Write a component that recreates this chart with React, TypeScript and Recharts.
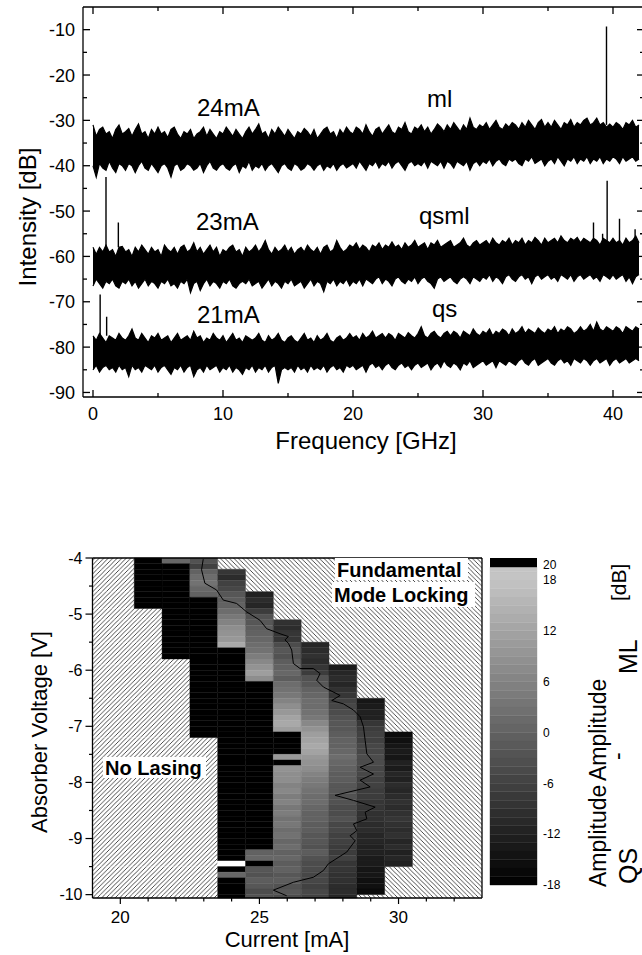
import React from "react";
import { ComposedChart, Area, Line, XAxis, YAxis, ReferenceArea } from "recharts";

const FONT = "'Liberation Sans', Arial, Helvetica, sans-serif";
const AXIS = { stroke: "#000", strokeWidth: 1.3 };

// ---------- spectra: upper / lower edge of the noise band [dB], one value every 0.25 GHz from 0 to 42 GHz
const FREQ_STEP = 0.25;

const hi24 = [
  -31, -33.5, -32, -31.5, -33, -32.5, -34, -32, -31, -33,
  -32.5, -31.8, -33.5, -32, -30.8, -33, -32.5, -34, -32, -33,
  -31.5, -33, -32.5, -33.8, -32, -31.5, -33, -34, -32.5, -33,
  -32, -34, -33, -32.5, -31.5, -33.5, -32, -33, -34, -32.5,
  -33, -31.5, -32.5, -33.5, -32, -33, -34, -32.5, -31.5, -33,
  -32, -30.8, -33, -32.5, -34, -32, -33, -31.5, -32.5, -33.5,
  -32, -33, -34, -32.5, -33, -31.8, -32.5, -33.5, -32, -34,
  -33, -32, -31.5, -33, -32.5, -34, -32, -33, -31.5, -32.5,
  -33, -31.5, -32, -33, -31, -32.5, -33.5, -32, -31.5, -33,
  -32, -31, -32.5, -33, -31.5, -32, -30.5, -32.5, -33, -31.5,
  -32, -31, -32.5, -31.5, -33, -32, -30.8, -31.5, -32.5, -31,
  -32, -30.5, -31.5, -32.5, -31, -32, -29.5, -31.5, -32, -31,
  -31.5, -30.5, -32, -31, -30, -31.5, -32, -30.8, -31.5, -30.5,
  -31, -32, -30.5, -31.5, -30, -31, -32, -30.5, -29.8, -31.5,
  -30.5, -31.5, -30, -31, -32, -30.5, -31, -29.8, -31.5, -30.5,
  -31, -30, -29.5, -31, -30.5, -29.5, -31, -30.5, -31.5, -30.8,
  -31.5, -30.5, -31, -32, -30.5, -31, -30, -31.5, -31,
];
const lo24 = [
  -40, -42.5, -39.5, -40.5, -41, -39, -40.5, -41.5, -39.5, -40,
  -41, -39.5, -40, -41.5, -40, -39, -40.5, -41, -39.5, -40.5,
  -41.5, -40, -39.5, -40.5, -42.5, -40, -39.5, -41, -40.5, -39.5,
  -40, -41, -40.5, -39.5, -41.5, -40, -39, -40.5, -41, -40,
  -39.5, -40.5, -41, -40, -39.5, -41.5, -40, -40.5, -39, -41,
  -40, -40.5, -39.5, -41, -40, -39.5, -40.5, -41.5, -40, -39.5,
  -40.5, -41, -39.5, -40, -41, -40.5, -39.5, -40, -41, -40,
  -39.5, -41, -40, -40.5, -39.5, -41, -40, -39.5, -40.5, -40,
  -39.5, -40.5, -39, -40, -41, -39.5, -40, -39, -40.5, -39.5,
  -40, -39, -40.5, -39.5, -39, -40, -41, -39.5, -39, -40,
  -39.5, -40, -39, -40.5, -39, -39.5, -40, -39, -40.5, -39,
  -39.5, -40.5, -39, -39.5, -40, -39, -41, -39.5, -39, -40,
  -39, -39.5, -38.5, -40, -39, -38.5, -39.5, -40, -38.5, -39,
  -38.5, -39.5, -40, -38.5, -39, -38, -39.5, -39, -38.5, -40,
  -39, -38.5, -39.5, -38, -39, -40, -38.5, -39, -38, -39.5,
  -38.5, -39, -38, -39.5, -38.5, -39, -38, -39.5, -38.5, -39,
  -38, -38.5, -39.5, -38, -39, -38.5, -38, -39, -38.5,
];
const hi23 = [
  -58, -59.5, -58, -59, -57.5, -59, -58.5, -60, -58, -57.8,
  -59, -58.5, -60, -58, -59, -57.5, -58.5, -59.5, -58, -59,
  -58.5, -60, -57.5, -58.5, -59, -58, -59.5, -58, -57.5, -59,
  -58.5, -57, -59, -58, -59.5, -58.5, -57.5, -59, -58, -60,
  -58.5, -59, -58, -57.5, -59, -58.5, -60, -58, -59, -58.5,
  -57.5, -59, -58, -56.5, -58.5, -59.5, -58, -59, -58.5, -57.5,
  -59, -58, -59.5, -58.5, -58, -59, -57.5, -58.5, -59, -58,
  -59.5, -58, -57.5, -59, -58.5, -56.5, -58, -59, -58.5, -57.5,
  -58, -57, -58.5, -57.5, -58, -59, -57.5, -58, -57, -58.5,
  -57.5, -58, -56.8, -58, -57.5, -58.5, -57, -58, -57.5, -56.5,
  -58, -57.5, -57, -58.5, -57, -57.5, -56.5, -58, -57.5, -57,
  -56.5, -58, -57.5, -57, -56, -57.5, -58, -57, -56.5, -57.5,
  -57, -56.5, -57.5, -56, -57, -57.5, -56.5, -57, -56, -57.5,
  -56.5, -57, -56, -57.5, -56.5, -57, -55.8, -56.5, -57.5, -56,
  -57, -56.5, -56, -57, -55.5, -56.5, -57, -56, -56.5, -55.8,
  -57, -56, -56.5, -57, -56, -56.5, -57.5, -56, -56.5, -57,
  -56, -57, -56.5, -57.5, -56, -57, -56.5, -55.5, -57,
];
const lo23 = [
  -66.5, -65, -66, -67, -65.5, -66, -65, -66.5, -67, -65.5,
  -66, -65, -66.5, -65.5, -67, -66, -65, -66.5, -65.5, -66,
  -67, -65.5, -66, -65, -66.5, -66, -67, -65.5, -66, -65,
  -68, -66, -65.5, -67.5, -66, -65, -66.5, -65.5, -66, -67,
  -65.5, -66, -65, -66.5, -67, -66, -65.5, -66, -65, -66.5,
  -66, -65.5, -67, -66, -65, -66.5, -65.5, -66, -67, -65.5,
  -66, -65, -66.5, -66, -65.5, -67, -66, -65, -66.5, -65.5,
  -66, -67.8, -65.5, -66, -65, -66.5, -65.5, -66, -65, -66.5,
  -65.5, -66, -65, -66.5, -65, -65.5, -66, -65, -64.5, -66,
  -65, -65.5, -66.5, -65, -64.5, -65.5, -66, -65, -65.5, -64.5,
  -66, -65, -64.5, -65.5, -66, -67, -65, -64.5, -65.5, -65,
  -64.5, -65.5, -66, -65, -64.5, -65, -66, -64.5, -65, -65.5,
  -64.5, -65, -64, -65.5, -64.5, -65, -66, -64.5, -64, -65,
  -65.5, -64.5, -64, -65, -64.5, -66, -64.5, -64, -65, -64.5,
  -64, -65, -64.5, -65.5, -64, -64.5, -65, -64, -65.5, -64.5,
  -64, -65, -64.5, -64, -65, -64.5, -65.5, -64, -64.5, -65,
  -64, -65, -64.5, -64, -65.5, -64.5, -66, -64.5, -64,
];
const hi21 = [
  -77.5, -78.5, -77, -78, -79, -77.5, -78, -78.5, -77, -78,
  -78.5, -77.5, -76, -78, -78.5, -77, -78, -79, -77.5, -78,
  -77, -78.5, -78, -77.5, -79, -78, -77, -78.5, -78, -77.5,
  -78.5, -76.5, -78, -77.5, -79, -78, -78.5, -77, -78, -78.5,
  -77.5, -79, -78, -77, -78.5, -78, -79, -77.5, -78, -78.5,
  -78, -77, -78.5, -79, -77.5, -78.5, -78, -77, -78.5, -79,
  -78, -77.5, -78.5, -79, -78, -77, -78.5, -78, -79, -77.5,
  -78.5, -78, -77, -78.5, -79, -78, -77.5, -78.5, -78, -77,
  -78, -77.5, -78.5, -77, -78, -77.5, -76.5, -78, -77.5, -77,
  -78, -77, -77.5, -78.5, -77, -77.5, -78, -76.8, -77.5, -78,
  -77, -75.5, -77.5, -78, -77, -76.5, -77.5, -78, -77, -76.5,
  -77.5, -76.5, -77, -78, -76.5, -77, -77.5, -76, -77, -77.5,
  -76.5, -77, -76, -77.5, -76.5, -77, -76, -76.5, -77.5, -76,
  -77, -76.5, -75.5, -77, -76, -76.5, -77, -75.8, -76.5, -77,
  -76, -76.5, -75.5, -77, -76, -76.5, -75.5, -76, -77, -76.5,
  -75.5, -76.5, -76, -75, -76.5, -74.5, -76, -76.5, -75.5, -76,
  -76.5, -75.5, -76, -77, -75.5, -76, -76.5, -75.5, -76,
];
const lo21 = [
  -85, -84, -85.5, -84.5, -84, -85, -84.5, -85.5, -84, -85,
  -84.5, -86.5, -84, -85, -84.5, -85.5, -84, -84.5, -85, -84,
  -85.5, -84.5, -84, -85, -86, -84.5, -85, -84, -85.5, -84.5,
  -84, -86.5, -85, -84.5, -85.5, -84, -85, -84.5, -84, -85.5,
  -84.5, -85, -84, -85.5, -84.5, -85, -86, -84.5, -85, -84,
  -85.5, -84.5, -85, -84, -85.5, -84.5, -84, -88, -85, -84.5,
  -85, -84.5, -85.5, -84, -85, -84.5, -85.5, -84, -85, -84.5,
  -85, -84, -85.5, -84.5, -84, -85, -84.5, -85.5, -84, -84.5,
  -84, -85, -84.5, -84, -85.5, -84, -83.5, -84.5, -84, -85,
  -84, -83.5, -84.5, -85, -84, -83.5, -84.5, -84, -85, -84,
  -83.5, -84.5, -84, -83.5, -85, -84, -83.5, -84.5, -83, -84,
  -84.5, -83.5, -84, -85, -83.5, -84, -83, -84.5, -84, -83.5,
  -83, -84, -83.5, -83, -84.5, -83, -83.5, -84, -83, -83.5,
  -84, -83, -82.5, -83.5, -84, -83, -82.5, -84, -83.5, -83,
  -82.5, -83.5, -84, -83, -82.5, -83.5, -83, -84, -82.5, -83,
  -83.5, -82.5, -83, -84, -83, -82.5, -83.5, -83, -82.5, -84,
  -83, -82.5, -83.5, -83, -82.5, -83.5, -83, -82.5, -83,
];

// narrow peaks: [frequency GHz, foot dB, top dB]
const spikes24 = [[39.5, -31, -9.3]];
const spikes23 = [
  [1.0, -58, -42.5], [1.95, -58, -52.5], [38.5, -57, -52.5], [39.2, -57, -55],
  [39.55, -57, -43.3], [40.5, -57, -51.7], [41.7, -57, -54],
];
const spikes21 = [[0.55, -77.5, -68.4], [1.05, -77.5, -73.3]];

const freqTicks = [0, 5, 10, 15, 20, 25, 30, 35, 40];
const dbTicks = [-90, -85, -80, -75, -70, -65, -60, -55, -50, -45, -40, -35, -30, -25, -20, -15, -10];

// ---------- map: amplitude difference [dB], columns at 1 mA, rows of 0.1 V from the column top downwards
// 99 = saturated (drawn black), null = no value (white)
const S = 99;
const currents = [21, 22, 23, 24, 25, 26, 27, 28, 29, 30];
const colTop = [-4.0, -4.0, -4.0, -4.2, -4.6, -5.1, -5.5, -5.9, -6.5, -7.1];
const colValues = [
  [S, S, S, S, S, S, S, S, S],
  [1, S, S, S, S, S, S, S, S, S, S, S, S, S, S, S, S, S],
  [-3, -6, 0, 2, 3, 1, 0, S, S, S, S, S, S, S, S, S, S, S, S, S, S, S, S, S, S, S, S, S, S, S, S, S],
  [-8, -10, -6, -5, -2, -1, 0, 2, 4, 6, 8, 9, 10, 13,
    S, S, S, S, S, S, S, S, S, S, S, S, S, S, S, S, S, S, S, S, S, S, S, S, S, S, S, S, S, S, S, S, S, S, S, S, S, S,
    null, S, 1, S, S, S, S],
  [-12, -10, -11, -7, -3, -2, -1, 0, 1, 2, 3, 5, 7, 9, 11, 8,
    S, S, S, S, S, S, S, S, S, S, S, S, S, S, S, S, S, S, S, S, S, S, S, S, S, S, S, S, S, S,
    0, 1, S, -2, -3, -1, -2, -4, -3],
  [-9, -10, -8, -8, -4, -2, -3, -1, 0, 1, -1, 2, 3, 4, 6, 8, 10, 12, 13, 11,
    S, S, S, S, 10, S,
    9, 8, 8, 6, 7, 5, 6, 4, 5, 3, 4, 2, 3, 1, 2, 0, 1, -1, 0, -2, -1, -3, -2, -4],
  [-11, -10, -9, -10, -8, -7, -3, -2, 0, 1, 2, 2, 3, 4, 7, 9, 11, 12, 13, 12, 10, 9,
    8, 6, 5, 4, 3, 2, 2, 1, 0, 0, -1, -1, -2, -2, -3, -1, -3, -4, -4, -5, -5, -6, -5, -6],
  [-13, -11, -10, -11, -9, -8, -6, -5, -4, -3, -2, -2, -1, 0, 0, 1, 2, 1, 0, -1, -1, -2, -2, -3, -3, -4,
    -4, -3, -5, -5, -6, -6, -7, -7, -6, -8, -8, -9, -9, -10, -10, -11],
  [-14, -13, -12, -12, -8, -7, -6, -6, -5, -5, -4, -4, -5, -5, -6, -6, -7, -7, -8, -8, -9, -9, -10, -10,
    -11, -11, -12, -12, -13, -13, -14, -14, -15, -15, -16],
  [-16, -15, -14, -13, -14, -12, -13, -11, -12, -10, -11, -10, -9, -10, -9, -8, -9, -10, -9, -11, -10, -12, -11, -12],
];

// zero contour [mA, V]
const contourI = [
  22.98, 22.92, 23.04, 23.46, 23.7, 24.18, 24.54, 25.02, 25.26, 25.74, 26.04, 25.92, 26.04, 26.16, 26.22,
  26.46, 26.94, 27.18, 27.06, 27.3, 27.9, 27.6, 28.02, 28.38, 28.62, 28.74, 28.8, 28.86, 29.1, 28.62, 29.1,
  28.62, 28.98, 27.72, 28.38, 29.16, 28.8, 28.86, 28.38, 28.5, 28.26, 28.44, 28.14, 27.48, 27.3, 26.94,
  26.22, 25.5, 25.98,
];
const contourV = [
  -4.02, -4.21, -4.45, -4.57, -4.75, -4.81, -4.96, -5.11, -5.26, -5.35, -5.4, -5.46, -5.52, -5.64, -5.88,
  -5.97, -5.97, -6.06, -6.18, -6.3, -6.45, -6.54, -6.6, -6.71, -6.83, -7.01, -7.25, -7.49, -7.64, -7.73, -7.85,
  -7.96, -8.08, -8.23, -8.32, -8.44, -8.53, -8.65, -8.74, -8.86, -8.95, -9.04, -9.24, -9.45, -9.57, -9.69,
  -9.78, -9.92, -10.02,
];

const currentTicks = [20, 21, 22, 23, 24, 25, 26, 27, 28, 29, 30, 31, 32];
const voltTicks = [-10, -9.5, -9, -8.5, -8, -7.5, -7, -6.5, -6, -5.5, -5, -4.5, -4];

// colour scale [dB]
const barTicks = [-18, -12, -6, 0, 6, 12, 18, 19.85];
const BAR_MIN = -18;
const BAR_TOP = 19.5; // top of the grey ramp; above is the black overflow band
const BAR_MAX = 20.6;

const V_MIN = -10.06;
const V_MAX = -4;
const I_MIN = 19;
const I_MAX = 33;

const grayOf = (v: number | null) => {
  if (v === null) return "#ffffff";
  if (v >= S) return "#000000";
  const t = Math.max(0, Math.min(1, (v + 18) / 36));
  const g = Math.round(t * 196);
  return `rgb(${g},${g},${g})`;
};
const r2 = (x: number) => Math.round(x * 100) / 100;

// ---------- ticks
const freqTick = (p: any) => {
  const v = p.payload.value;
  const major = v % 10 === 0;
  return (
    <g>
      <line x1={p.x} x2={p.x} y1={p.y} y2={p.y - (major ? 7 : 4)} stroke="#000" strokeWidth={1.3} />
      {major && (
        <text x={p.x} y={p.y + 23} textAnchor="middle" fontSize={18} fontFamily={FONT} fill="#000">{v}</text>
      )}
    </g>
  );
};
const freqTopTick = (p: any) => {
  const major = p.payload.value % 10 === 0;
  return <line x1={p.x} x2={p.x} y1={p.y} y2={p.y + (major ? 7 : 4)} stroke="#000" strokeWidth={1.3} />;
};
const dbTick = (p: any) => {
  const v = p.payload.value;
  const major = v % 10 === 0;
  return (
    <g>
      <line x1={p.x} x2={p.x + (major ? 7 : 4)} y1={p.y} y2={p.y} stroke="#000" strokeWidth={1.3} />
      {major && (
        <text x={p.x - 8} y={p.y} dy="0.36em" textAnchor="end" fontSize={18} fontFamily={FONT} fill="#000">{v}</text>
      )}
    </g>
  );
};
const dbRightTick = (p: any) => {
  const major = p.payload.value % 10 === 0;
  return <line x1={p.x} x2={p.x - (major ? 7 : 4)} y1={p.y} y2={p.y} stroke="#000" strokeWidth={1.3} />;
};
const currentTick = (p: any) => {
  const v = p.payload.value;
  const major = v % 5 === 0;
  return (
    <g>
      <line x1={p.x} x2={p.x} y1={p.y} y2={p.y + (major ? 6 : 3.5)} stroke="#000" strokeWidth={1.2} />
      {major && (
        <text x={p.x} y={p.y + 25} textAnchor="middle" fontSize={17} fontFamily={FONT} fill="#000">{v}</text>
      )}
    </g>
  );
};
const voltTick = (p: any) => {
  const v = p.payload.value;
  const major = Number.isInteger(v);
  return (
    <g>
      <line x1={p.x} x2={p.x - (major ? 7 : 3.5)} y1={p.y} y2={p.y} stroke="#000" strokeWidth={1.2} />
      {major && (
        <text x={p.x - 10} y={p.y} dy="0.36em" textAnchor="end" fontSize={16} fontFamily={FONT} fill="#000">{v}</text>
      )}
    </g>
  );
};
const barTick = (p: any) => {
  const v = p.payload.value;
  return (
    <text x={p.x + 6} y={p.y} dy="0.36em" textAnchor="start" fontSize={12} fontFamily={FONT} fill="#000">
      {v > 19 ? 20 : v}
    </text>
  );
};

const noAxisTick = {
  tickSize: 0,
  tickMargin: 0,
  tickLine: false,
  interval: 0 as const,
  axisLine: AXIS,
  allowDataOverflow: true,
};

function Spectra() {
  const bands = [
    [hi24, lo24],
    [hi23, lo23],
    [hi21, lo21],
  ].map(([hi, lo]) => hi.map((h, i) => ({ f: i * FREQ_STEP, r: [lo[i], h] })));
  const peaks = [spikes24, spikes23, spikes21].map((list) =>
    list.flatMap(([f, foot, top]) => [
      { f, v: foot },
      { f, v: top },
      { f, v: null },
    ])
  );
  const xDomain = [-0.769, 42.385];
  const yDomain = [-91, -5];
  return (
    <ComposedChart width={660} height={460} margin={{ top: 0, right: 0, bottom: 0, left: 0 }}>
      <XAxis type="number" dataKey="f" domain={xDomain} ticks={freqTicks} height={63} tick={freqTick} {...noAxisTick} />
      <XAxis xAxisId="top" orientation="top" type="number" dataKey="f" domain={xDomain} ticks={freqTicks} height={7} tick={freqTopTick} {...noAxisTick} />
      <YAxis type="number" domain={yDomain} ticks={dbTicks} width={83} tick={dbTick} {...noAxisTick} />
      <YAxis yAxisId="right" orientation="right" type="number" domain={yDomain} ticks={dbTicks} width={16} tick={dbRightTick} {...noAxisTick} />
      {bands.map((d, i) => (
        <Area
          key={"b" + i}
          data={d}
          dataKey="r"
          type="linear"
          fill="#000"
          fillOpacity={1}
          stroke="#000"
          strokeWidth={1.2}
          dot={false}
          activeDot={false}
          isAnimationActive={false}
        />
      ))}
      {peaks.map((d, i) => (
        <Line
          key={"p" + i}
          data={d}
          dataKey="v"
          type="linear"
          stroke="#000"
          strokeWidth={1.4}
          dot={false}
          activeDot={false}
          connectNulls={false}
          isAnimationActive={false}
        />
      ))}
    </ComposedChart>
  );
}

function ModeMap() {
  const cells = currents.flatMap((I, c) =>
    colValues[c].map((v, k) => ({
      I,
      y2: r2(colTop[c] - 0.1 * k),
      y1: Math.max(V_MIN, r2(colTop[c] - 0.1 * (k + 1))),
      v,
    }))
  );

  // hatched regions left and right of the measured cells, row by row
  const startRow = colTop.map((t) => Math.round((V_MAX - t) / 0.1));
  const rows = Math.ceil((V_MAX - V_MIN) / 0.1);
  const segs: { y1: number; y2: number; lo: number; hi: number }[] = [];
  for (let r = 0; r < rows; r++) {
    const cols = currents.filter((_, c) => r >= startRow[c] && r < startRow[c] + colValues[c].length);
    if (!cols.length) continue;
    const lo = Math.min(...cols) - 0.5;
    const hi = Math.max(...cols) + 0.5;
    const y2 = r2(V_MAX - 0.1 * r);
    const y1 = Math.max(V_MIN, r2(V_MAX - 0.1 * (r + 1)));
    const last = segs[segs.length - 1];
    if (last && last.lo === lo && last.hi === hi) last.y1 = y1;
    else segs.push({ y1, y2, lo, hi });
  }
  const contour = contourI.map((I, i) => ({ i: I, v: contourV[i] }));

  return (
    <ComposedChart width={490} height={455} margin={{ top: 57, right: 7, bottom: 0, left: 0 }}>
      <defs>
        <pattern id="hatchFwd" patternUnits="userSpaceOnUse" width="4.5" height="4.5">
          <rect width="4.5" height="4.5" fill="#fff" />
          <path d="M-1,1 l2,-2 M0,4.5 l4.5,-4.5 M3.5,5.5 l2,-2" stroke="#000" strokeWidth="0.7" />
        </pattern>
        <pattern id="hatchBack" patternUnits="userSpaceOnUse" width="4.5" height="4.5">
          <rect width="4.5" height="4.5" fill="#fff" />
          <path d="M-1,3.5 l2,2 M0,0 l4.5,4.5 M3.5,-1 l2,2" stroke="#000" strokeWidth="0.7" />
        </pattern>
      </defs>
      <XAxis type="number" dataKey="i" domain={[I_MIN, I_MAX]} ticks={currentTicks} height={57} tick={currentTick} {...noAxisTick} />
      <XAxis xAxisId="top" orientation="top" type="number" domain={[I_MIN, I_MAX]} height={1} tick={false} {...noAxisTick} />
      <YAxis type="number" domain={[V_MIN, V_MAX]} ticks={voltTicks} width={92.5} tick={voltTick} {...noAxisTick} />
      <YAxis yAxisId="right" orientation="right" type="number" domain={[V_MIN, V_MAX]} width={1} tick={false} {...noAxisTick} />
      {segs.map((s, i) => (
        <ReferenceArea key={"l" + i} x1={I_MIN} x2={s.lo} y1={s.y1} y2={s.y2} fill="url(#hatchFwd)" fillOpacity={1} stroke="none" ifOverflow="visible" />
      ))}
      {segs.map((s, i) => (
        <ReferenceArea key={"r" + i} x1={s.hi} x2={I_MAX} y1={s.y1} y2={s.y2} fill="url(#hatchBack)" fillOpacity={1} stroke="none" ifOverflow="visible" />
      ))}
      {cells.map((c, i) => (
        <ReferenceArea
          key={"c" + i}
          x1={c.I - 0.5}
          x2={c.I + 0.5}
          y1={c.y1}
          y2={c.y2}
          fill={grayOf(c.v)}
          fillOpacity={1}
          stroke={grayOf(c.v)}
          strokeWidth={0.4}
          ifOverflow="visible"
        />
      ))}
      <Line data={contour} dataKey="v" type="linear" stroke="#000" strokeWidth={1} dot={false} activeDot={false} isAnimationActive={false} />
    </ComposedChart>
  );
}

function ColorBar() {
  const levels: number[] = [];
  for (let v = BAR_MIN; v < BAR_TOP; v += 1) levels.push(v);
  // invisible series so the chart has its axes bound to data
  const frame = [
    { x: 0, v: BAR_MIN },
    { x: 1, v: BAR_MAX },
  ];
  return (
    <ComposedChart width={100} height={370} margin={{ top: 18, right: 3, bottom: 0, left: 10 }}>
      <XAxis type="number" dataKey="x" domain={[0, 1]} height={25} tick={false} tickLine={false} axisLine={false} allowDataOverflow />
      <YAxis
        orientation="right"
        type="number"
        domain={[BAR_MIN, BAR_MAX]}
        ticks={barTicks}
        width={40}
        tick={barTick}
        tickSize={0}
        tickMargin={0}
        tickLine={false}
        axisLine={false}
        interval={0}
        allowDataOverflow
      />
      {levels.map((v) => (
        <ReferenceArea
          key={v}
          x1={0}
          x2={1}
          y1={v}
          y2={Math.min(v + 1, BAR_TOP)}
          fill={grayOf(v + 0.5)}
          fillOpacity={1}
          stroke={grayOf(v + 0.5)}
          strokeWidth={0.4}
          ifOverflow="visible"
        />
      ))}
      <ReferenceArea x1={0} x2={1} y1={BAR_TOP} y2={BAR_MAX} fill="#000" fillOpacity={1} stroke="none" ifOverflow="visible" />
      <Line data={frame} dataKey="v" stroke="none" dot={false} activeDot={false} isAnimationActive={false} />
    </ComposedChart>
  );
}

function Texts() {
  const t = { fontFamily: FONT, fill: "#000" };
  const rot = (x: number, y: number) => `translate(${x},${y}) rotate(-90)`;
  return (
    <svg width={642} height={955} style={{ position: "absolute", left: 0, top: 0, pointerEvents: "none" }}>
      <text {...t} fontSize={24} textAnchor="middle" transform={rot(36, 217)}>Intensity [dB]</text>
      <text {...t} fontSize={24} textAnchor="middle" x={366} y={449}>Frequency [GHz]</text>
      <text {...t} fontSize={24} x={197} y={116}>24mA</text>
      <text {...t} fontSize={24} x={427} y={107}>ml</text>
      <text {...t} fontSize={24} x={196} y={230}>23mA</text>
      <text {...t} fontSize={24} x={419} y={224}>qsml</text>
      <text {...t} fontSize={24} x={197} y={323}>21mA</text>
      <text {...t} fontSize={24} x={432} y={317}>qs</text>

      <text {...t} fontSize={22} textAnchor="middle" x={287} y={947}>Current [mA]</text>
      <text {...t} fontSize={22} textAnchor="middle" transform={rot(47, 732)}>Absorber Voltage [V]</text>

      <rect x={335} y={558} width={133} height={22} fill="#fff" />
      <rect x={332} y={582} width={143} height={25} fill="#fff" />
      <rect x={103} y={757} width={103} height={21} fill="#fff" />
      <text {...t} fontSize={20} fontWeight="bold" x={337} y={577}>Fundamental</text>
      <text {...t} fontSize={20} fontWeight="bold" x={334} y={602}>Mode Locking</text>
      <text {...t} fontSize={20} fontWeight="bold" x={105} y={775}>No Lasing</text>

      <text {...t} fontSize={23} transform={rot(606, 887)}>Amplitude</text>
      <text {...t} fontSize={25} transform={rot(637, 884)}>QS</text>
      <text {...t} fontSize={23} transform={rot(625, 760)}>-</text>
      <text {...t} fontSize={23} transform={rot(606, 781)}>Amplitude</text>
      <text {...t} fontSize={25} transform={rot(637, 674)}>ML</text>
      <text {...t} fontSize={21} transform={rot(626, 601)}>[dB]</text>
    </svg>
  );
}

export default function App() {
  return (
    <div style={{ position: "absolute", left: 0, top: 0, width: 642, height: 955, overflow: "hidden", background: "#fff" }}>
      <div style={{ position: "absolute", left: 0, top: 0 }}>
        <Spectra />
      </div>
      <div style={{ position: "absolute", left: 0, top: 500 }}>
        <ModeMap />
      </div>
      <div style={{ position: "absolute", left: 480, top: 540 }}>
        <ColorBar />
      </div>
      <Texts />
    </div>
  );
}
